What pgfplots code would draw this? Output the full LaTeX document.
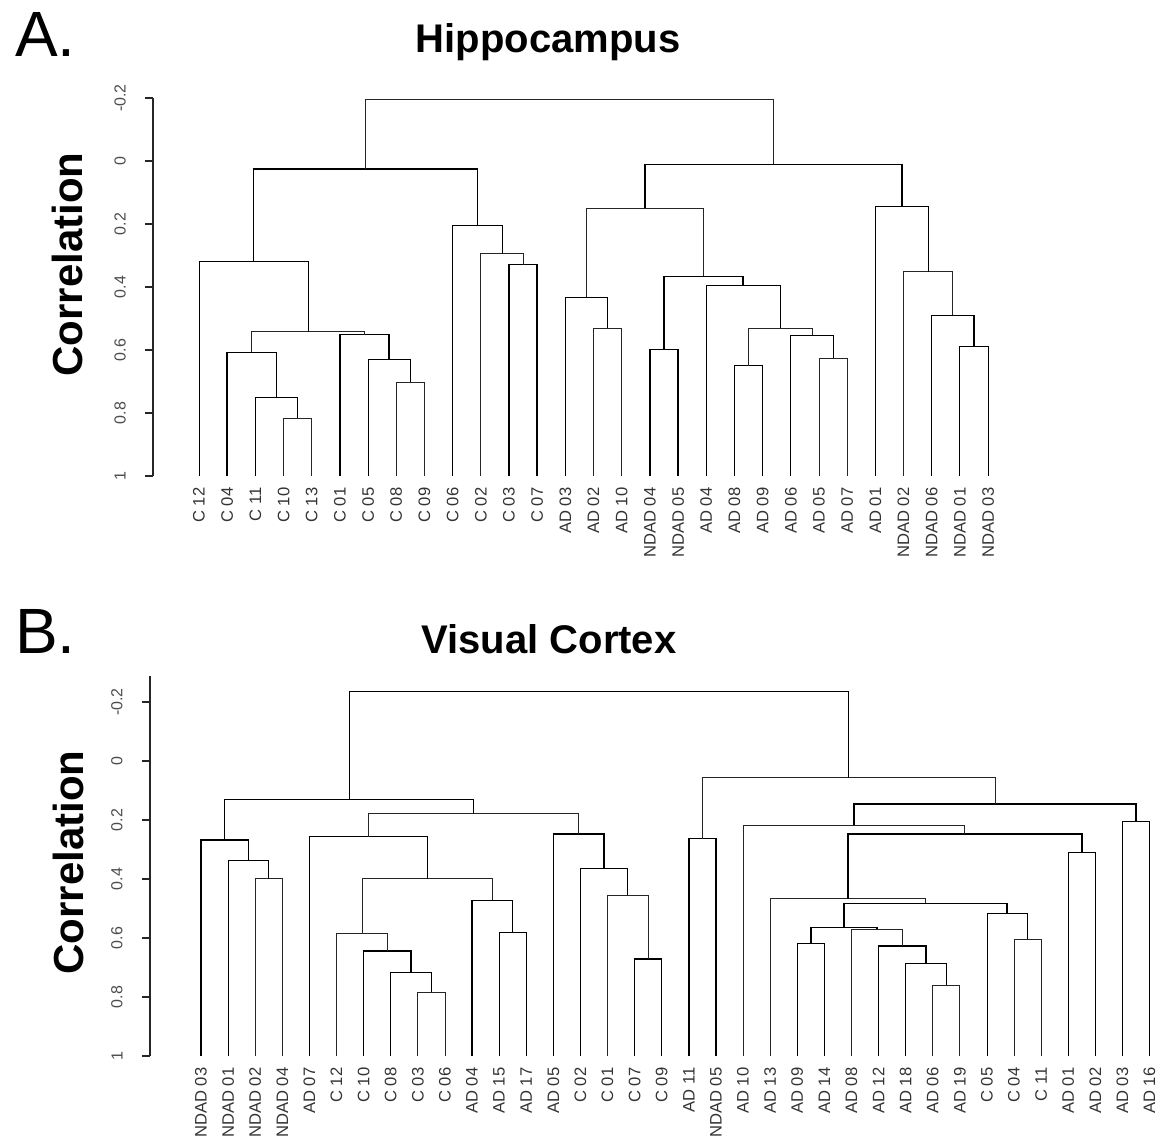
\documentclass[border=0pt]{standalone}
\usepackage{pgfplots}
\pgfplotsset{compat=1.18}
\usepackage{fontspec}
\setmainfont{Liberation Sans}

\pgfplotsset{
  dendro/.style={
    clip=false, y dir=reverse,
    axis y line*=left, axis x line*=bottom,
    x axis line style={draw=none},
    y axis line style={line width=0.75pt, black!85},
    tick align=outside, major tick length=4pt,
    ytick={-0.2,0,0.2,0.4,0.6,0.8,1},
    yticklabels={-0.2,0,0.2,0.4,0.6,0.8,1},
    ytick style={line width=0.75pt, black!85},
    yticklabel style={xshift=-9.5pt, rotate=90, anchor=south, inner sep=0pt,
      font=\fontsize{8}{9}\selectfont, text=black!70},
    xtick style={draw=none},
    xtick={0,...,40},
    cycle list={{black!85, solid, line width=0.75pt}},
    every axis plot/.append style={no marks},
  }
}

\begin{document}
\begin{tikzpicture}
\useasboundingbox (0,0) rectangle (580pt,-571.5pt);

% panel labels and titles
\node[anchor=base west, font=\fontsize{32}{32}\selectfont] at (4pt,-28.5pt) {A.};
\node[anchor=base, font=\bfseries\fontsize{20}{20}\selectfont] at (274pt,-26.5pt) {Hippocampus};
\node[anchor=base, rotate=90, font=\bfseries\fontsize{21}{21}\selectfont] at (41pt,-132.25pt) {Correlation};

\node[anchor=base west, font=\fontsize{32}{32}\selectfont] at (4pt,-326.5pt) {B.};
\node[anchor=base, font=\bfseries\fontsize{20}{20}\selectfont] at (274.5pt,-326.5pt) {Visual Cortex};
\node[anchor=base, rotate=90, font=\bfseries\fontsize{21}{21}\selectfont] at (41.5pt,-431.25pt) {Correlation};

% A: hippocampus
\begin{axis}[dendro,
  at={(99.5pt,-80.5pt)}, anchor=origin,
  x=14.09pt, y=157.6pt,
  xmin=-1.63, xmax=29, ymin=-0.2, ymax=1,
  xticklabel style={yshift=-1.5pt, rotate=90, anchor=east, inner sep=0pt,
    font=\fontsize{8.3}{9}\selectfont, text=black!80},
  xticklabels={C 12,C 04,C 11,C 10,C 13,C 01,C 05,C 08,C 09,C 06,C 02,C 03,C 07,
    AD 03,AD 02,AD 10,NDAD 04,NDAD 05,AD 04,AD 08,AD 09,AD 06,AD 05,AD 07,
    AD 01,NDAD 02,NDAD 06,NDAD 01,NDAD 03},
]
% control cluster
\addplot coordinates {(3,1) (3,0.816) (4,0.816) (4,1)};
\addplot coordinates {(2,1) (2,0.749) (3.5,0.749) (3.5,0.816)};
\addplot coordinates {(1,1) (1,0.607) (2.75,0.607) (2.75,0.749)};
\addplot coordinates {(7,1) (7,0.702) (8,0.702) (8,1)};
\addplot coordinates {(6,1) (6,0.631) (7.5,0.631) (7.5,0.702)};
\addplot coordinates {(5,1) (5,0.551) (6.75,0.551) (6.75,0.631)};
\addplot coordinates {(1.875,0.607) (1.875,0.541) (5.875,0.541) (5.875,0.551)};
\addplot coordinates {(0,1) (0,0.319) (3.875,0.319) (3.875,0.541)};
\addplot coordinates {(11,1) (11,0.329) (12,0.329) (12,1)};
\addplot coordinates {(10,1) (10,0.294) (11.5,0.294) (11.5,0.329)};
\addplot coordinates {(9,1) (9,0.205) (10.75,0.205) (10.75,0.294)};
\addplot coordinates {(1.9375,0.319) (1.9375,0.025) (9.875,0.025) (9.875,0.205)};
% AD / NDAD cluster
\addplot coordinates {(14,1) (14,0.530) (15,0.530) (15,1)};
\addplot coordinates {(13,1) (13,0.433) (14.5,0.433) (14.5,0.530)};
\addplot coordinates {(16,1) (16,0.598) (17,0.598) (17,1)};
\addplot coordinates {(22,1) (22,0.626) (23,0.626) (23,1)};
\addplot coordinates {(21,1) (21,0.552) (22.5,0.552) (22.5,0.626)};
\addplot coordinates {(19,1) (19,0.649) (20,0.649) (20,1)};
\addplot coordinates {(19.5,0.649) (19.5,0.530) (21.75,0.530) (21.75,0.552)};
\addplot coordinates {(18,1) (18,0.395) (20.625,0.395) (20.625,0.530)};
\addplot coordinates {(16.5,0.598) (16.5,0.366) (19.3125,0.366) (19.3125,0.395)};
\addplot coordinates {(13.75,0.433) (13.75,0.149) (17.90625,0.149) (17.90625,0.366)};
\addplot coordinates {(27,1) (27,0.588) (28,0.588) (28,1)};
\addplot coordinates {(26,1) (26,0.490) (27.5,0.490) (27.5,0.588)};
\addplot coordinates {(25,1) (25,0.351) (26.75,0.351) (26.75,0.490)};
\addplot coordinates {(24,1) (24,0.144) (25.875,0.144) (25.875,0.351)};
\addplot coordinates {(15.828,0.149) (15.828,0.011) (24.9375,0.011) (24.9375,0.144)};
% root
\addplot coordinates {(5.906,0.025) (5.906,-0.197) (20.383,-0.197) (20.383,0.011)};
\end{axis}

% B: visual cortex
\begin{axis}[dendro,
  at={(100.5pt,-380.5pt)}, anchor=origin,
  x=13.55pt, y=147.6pt,
  xmin=-1.88, xmax=36.5, ymin=-0.287, ymax=1,
  xticklabel style={yshift=-1.5pt, rotate=90, anchor=east, inner sep=0pt,
    font=\fontsize{8.3}{9}\selectfont, text=black!80},
  xticklabels={NDAD 03,NDAD 01,NDAD 02,NDAD 04,AD 07,C 12,C 10,C 08,C 03,C 06,
    AD 04,AD 15,AD 17,AD 05,C 02,C 01,C 07,C 09,AD 11,NDAD 05,AD 10,AD 13,
    AD 09,AD 14,AD 08,AD 12,AD 18,AD 06,AD 19,C 05,C 04,C 11,AD 01,AD 02,
    AD 03,AD 16},
]
\addplot coordinates {(2,1) (2,0.398) (3,0.398) (3,1)};
\addplot coordinates {(1,1) (1,0.335) (2.5,0.335) (2.5,0.398)};
\addplot coordinates {(0,1) (0,0.267) (1.75,0.267) (1.75,0.335)};
\addplot coordinates {(8,1) (8,0.783) (9,0.783) (9,1)};
\addplot coordinates {(7,1) (7,0.716) (8.5,0.716) (8.5,0.783)};
\addplot coordinates {(6,1) (6,0.643) (7.75,0.643) (7.75,0.716)};
\addplot coordinates {(5,1) (5,0.583) (6.875,0.583) (6.875,0.643)};
\addplot coordinates {(11,1) (11,0.579) (12,0.579) (12,1)};
\addplot coordinates {(10,1) (10,0.472) (11.5,0.472) (11.5,0.579)};
\addplot coordinates {(5.9375,0.583) (5.9375,0.398) (10.75,0.398) (10.75,0.472)};
\addplot coordinates {(4,1) (4,0.257) (8.34375,0.257) (8.34375,0.398)};
\addplot coordinates {(16,1) (16,0.671) (17,0.671) (17,1)};
\addplot coordinates {(15,1) (15,0.454) (16.5,0.454) (16.5,0.671)};
\addplot coordinates {(14,1) (14,0.364) (15.75,0.364) (15.75,0.454)};
\addplot coordinates {(13,1) (13,0.247) (14.875,0.247) (14.875,0.364)};
\addplot coordinates {(6.171875,0.257) (6.171875,0.179) (13.9375,0.179) (13.9375,0.247)};
\addplot coordinates {(0.875,0.267) (0.875,0.130) (10.0547,0.130) (10.0547,0.179)};
% right half
\addplot coordinates {(18,1) (18,0.263) (19,0.263) (19,1)};
\addplot coordinates {(27,1) (27,0.760) (28,0.760) (28,1)};
\addplot coordinates {(26,1) (26,0.687) (27.5,0.687) (27.5,0.760)};
\addplot coordinates {(25,1) (25,0.627) (26.75,0.627) (26.75,0.687)};
\addplot coordinates {(24,1) (24,0.569) (25.875,0.569) (25.875,0.627)};
\addplot coordinates {(22,1) (22,0.618) (23,0.618) (23,1)};
\addplot coordinates {(22.5,0.618) (22.5,0.564) (24.9375,0.564) (24.9375,0.569)};
\addplot coordinates {(30,1) (30,0.604) (31,0.604) (31,1)};
\addplot coordinates {(29,1) (29,0.517) (30.5,0.517) (30.5,0.604)};
\addplot coordinates {(23.71875,0.564) (23.71875,0.482) (29.75,0.482) (29.75,0.517)};
\addplot coordinates {(21,1) (21,0.467) (26.734,0.467) (26.734,0.482)};
\addplot coordinates {(32,1) (32,0.310) (33,0.310) (33,1)};
\addplot coordinates {(23.867,0.467) (23.867,0.247) (32.5,0.247) (32.5,0.310)};
\addplot coordinates {(20,1) (20,0.218) (28.184,0.218) (28.184,0.247)};
\addplot coordinates {(34,1) (34,0.204) (35,0.204) (35,1)};
\addplot coordinates {(24.092,0.218) (24.092,0.145) (34.5,0.145) (34.5,0.204)};
\addplot coordinates {(18.5,0.263) (18.5,0.057) (29.296,0.057) (29.296,0.145)};
% root
\addplot coordinates {(5.4648,0.130) (5.4648,-0.235) (23.898,-0.235) (23.898,0.057)};
\end{axis}
\end{tikzpicture}
\end{document}
